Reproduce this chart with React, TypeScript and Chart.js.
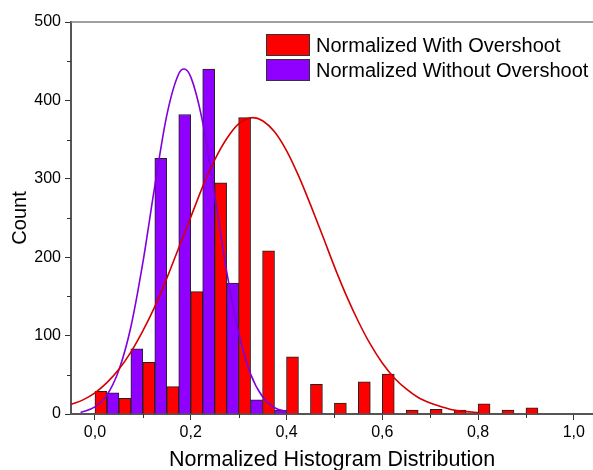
import React, { useEffect, useRef } from "react";
import { Chart, registerables } from "chart.js";

Chart.register(...registerables);

// ---- data ----
const binCenters = [0.025, 0.075, 0.125, 0.175, 0.225, 0.275, 0.325, 0.375, 0.425, 0.475, 0.525, 0.575, 0.625, 0.675, 0.725, 0.775, 0.825, 0.875, 0.925];
const withOvershoot = [29, 20, 66, 35, 156, 295, 378, 208, 73, 38, 14, 41, 51, 5, 6, 5, 13, 5, 8];
const withoutOvershoot = [27, 83, 326, 382, 440, 167, 18, 5, null, null, null, null, null, null, null, null, null, null, null];

const withFitX = [-0.05, -0.025, 0, 0.025, 0.05, 0.075, 0.1, 0.125, 0.15, 0.175, 0.2, 0.225, 0.25, 0.275, 0.3, 0.33, 0.35, 0.375, 0.4, 0.425, 0.45, 0.475, 0.5, 0.525, 0.55, 0.575, 0.6, 0.625, 0.65, 0.675, 0.7, 0.725, 0.75, 0.775, 0.8];
const withFitY = [12, 18, 27, 40, 57, 79, 106, 137, 173, 212, 251, 290, 324, 351, 370, 378, 374, 360, 336, 304, 267, 228, 188, 151, 118, 89, 65, 46, 32, 21, 14, 9, 5, 3, 2];

const withoutFitX = [-0.03, 0, 0.025, 0.05, 0.075, 0.1, 0.125, 0.15, 0.175, 0.186, 0.2, 0.225, 0.25, 0.275, 0.3, 0.325, 0.35, 0.375, 0.4];
const withoutFitY = [2, 9, 24, 56, 111, 193, 291, 381, 434, 440, 430, 372, 279, 182, 104, 51, 22, 8, 3];

const seriesLabels = ["Normalized With Overshoot", "Normalized Without Overshoot"];
const xTickValues = [0, 0.1, 0.2, 0.3, 0.4, 0.5, 0.6, 0.7, 0.8, 0.9, 1.0];
const yTickValues = [0, 50, 100, 150, 200, 250, 300, 350, 400, 450, 500];
const xTitle = "Normalized Histogram Distribution";
const yTitle = "Count";

const FONT = "'Liberation Sans', Arial, sans-serif";
const RED = "#ff0000";
const PURPLE = "#8f00ff";

const isMajorX = (v: number) => Math.round(v * 10) % 2 === 0;
const isMajorY = (v: number) => Math.round(v) % 100 === 0;

const framePlugin = {
  id: "frame",
  afterDraw(chart: any) {
    const { ctx, chartArea, scales } = chart;
    ctx.save();
    // top frame line
    ctx.strokeStyle = "#808080";
    ctx.lineWidth = 1.5;
    ctx.beginPath();
    ctx.moveTo(chartArea.left, chartArea.top);
    ctx.lineTo(chartArea.right, chartArea.top);
    ctx.stroke();
    // minor ticks
    ctx.strokeStyle = "#333";
    ctx.lineWidth = 1;
    const xs = scales.x;
    xTickValues.filter((v) => !isMajorX(v)).forEach((v) => {
      const px = Math.round(xs.getPixelForValue(v)) + 0.5;
      ctx.beginPath();
      ctx.moveTo(px, chartArea.bottom);
      ctx.lineTo(px, chartArea.bottom + 4);
      ctx.stroke();
    });
    const ys = scales.y;
    yTickValues.filter((v) => !isMajorY(v)).forEach((v) => {
      const py = Math.round(ys.getPixelForValue(v)) + 0.5;
      ctx.beginPath();
      ctx.moveTo(chartArea.left - 4, py);
      ctx.lineTo(chartArea.left, py);
      ctx.stroke();
    });
    // legend
    const bx = chartArea.left + 195;
    let by = chartArea.top + 12;
    chart.data.datasets.forEach((ds: any) => {
      if (ds.type !== "bar") return;
      ctx.fillStyle = ds.backgroundColor;
      ctx.fillRect(bx, by, 44, 22);
      ctx.strokeStyle = "#333";
      ctx.lineWidth = 1;
      ctx.strokeRect(bx + 0.5, by + 0.5, 43, 21);
      ctx.fillStyle = "#000";
      ctx.font = `20px ${FONT}`;
      ctx.textBaseline = "middle";
      ctx.textAlign = "left";
      ctx.fillText(ds.label, bx + 50, by + 12);
      by += 25;
    });
    ctx.restore();
  },
};

export default function App() {
  const ref = useRef<HTMLCanvasElement | null>(null);

  useEffect(() => {
    if (!ref.current) return;
    const chart = new Chart(ref.current, {
      type: "bar",
      data: {
        datasets: [
          {
            type: "line",
            label: seriesLabels[0] + " fit",
            data: withFitX.map((x, i) => ({ x, y: withFitY[i] })),
            borderColor: "#d40000",
            borderWidth: 1.6,
            pointRadius: 0,
            cubicInterpolationMode: "monotone",
            fill: false,
            order: 0,
          },
          {
            type: "line",
            label: seriesLabels[1] + " fit",
            data: withoutFitX.map((x, i) => ({ x, y: withoutFitY[i] })),
            borderColor: "#8000dd",
            borderWidth: 1.6,
            pointRadius: 0,
            cubicInterpolationMode: "monotone",
            fill: false,
            order: 0,
          },
          {
            type: "bar",
            label: seriesLabels[0],
            data: binCenters.map((x, i) => ({ x, y: withOvershoot[i] })),
            backgroundColor: RED,
            borderColor: "#222",
            borderWidth: 1,
            borderSkipped: "start",
            barPercentage: 1,
            categoryPercentage: 1,
            order: 1,
          },
          {
            type: "bar",
            label: seriesLabels[1],
            data: binCenters.map((x, i) => ({ x, y: withoutOvershoot[i] })),
            backgroundColor: PURPLE,
            borderColor: "#222",
            borderWidth: 1,
            borderSkipped: "start",
            barPercentage: 1,
            categoryPercentage: 1,
            order: 1,
          },
        ] as any,
      },
      options: {
        animation: false,
        responsive: false,
        layout: { padding: { top: 22, left: 0, right: 0, bottom: 0 } },
        plugins: { legend: { display: false }, tooltip: { enabled: false } },
        scales: {
          x: {
            type: "linear",
            min: -0.05,
            max: 1.04,
            offset: false,
            afterFit: (s: any) => {
              s.height = 56;
            },
            afterBuildTicks: (s: any) => {
              s.ticks = xTickValues.map((v) => ({ value: v }));
            },
            grid: {
              offset: false,
              drawOnChartArea: false,
              drawTicks: true,
              tickLength: 6,
              tickWidth: 1,
              tickColor: (c: any) => (c.tick && isMajorX(c.tick.value) ? "#333" : "rgba(0,0,0,0)"),
            },
            border: { display: true, color: "#555", width: 2 },
            ticks: {
              autoSkip: false,
              maxRotation: 0,
              padding: 3,
              color: "#000",
              font: { family: FONT, size: 16 },
              callback: (v: any) => (isMajorX(Number(v)) ? Number(v).toFixed(1).replace(".", ",") : ""),
            },
            title: {
              display: true,
              text: xTitle,
              color: "#000",
              font: { family: FONT, size: 21.5, lineHeight: 1 },
              padding: { top: 0, bottom: -1 },
            },
          },
          y: {
            type: "linear",
            min: 0,
            max: 500,
            afterFit: (s: any) => {
              s.width = 71;
            },
            afterBuildTicks: (s: any) => {
              s.ticks = yTickValues.map((v) => ({ value: v }));
            },
            grid: {
              drawOnChartArea: false,
              drawTicks: true,
              tickLength: 6,
              tickWidth: 1,
              tickColor: (c: any) => (c.tick && isMajorY(c.tick.value) ? "#333" : "rgba(0,0,0,0)"),
            },
            border: { display: true, color: "#555", width: 2 },
            ticks: {
              autoSkip: false,
              padding: 4,
              color: "#000",
              font: { family: FONT, size: 16 },
              callback: (v: any) => (isMajorY(Number(v)) ? String(v) : ""),
            },
            title: {
              display: true,
              text: yTitle,
              color: "#000",
              font: { family: FONT, size: 20 },
              padding: { top: 8, bottom: 0 },
            },
          },
        },
      } as any,
      plugins: [framePlugin],
    });
    return () => chart.destroy();
  }, []);

  return (
    <div style={{ position: "absolute", left: 0, top: 0, width: 593, height: 470, background: "#fff" }}>
      <canvas ref={ref} width={593} height={470} style={{ display: "block" }} />
    </div>
  );
}
